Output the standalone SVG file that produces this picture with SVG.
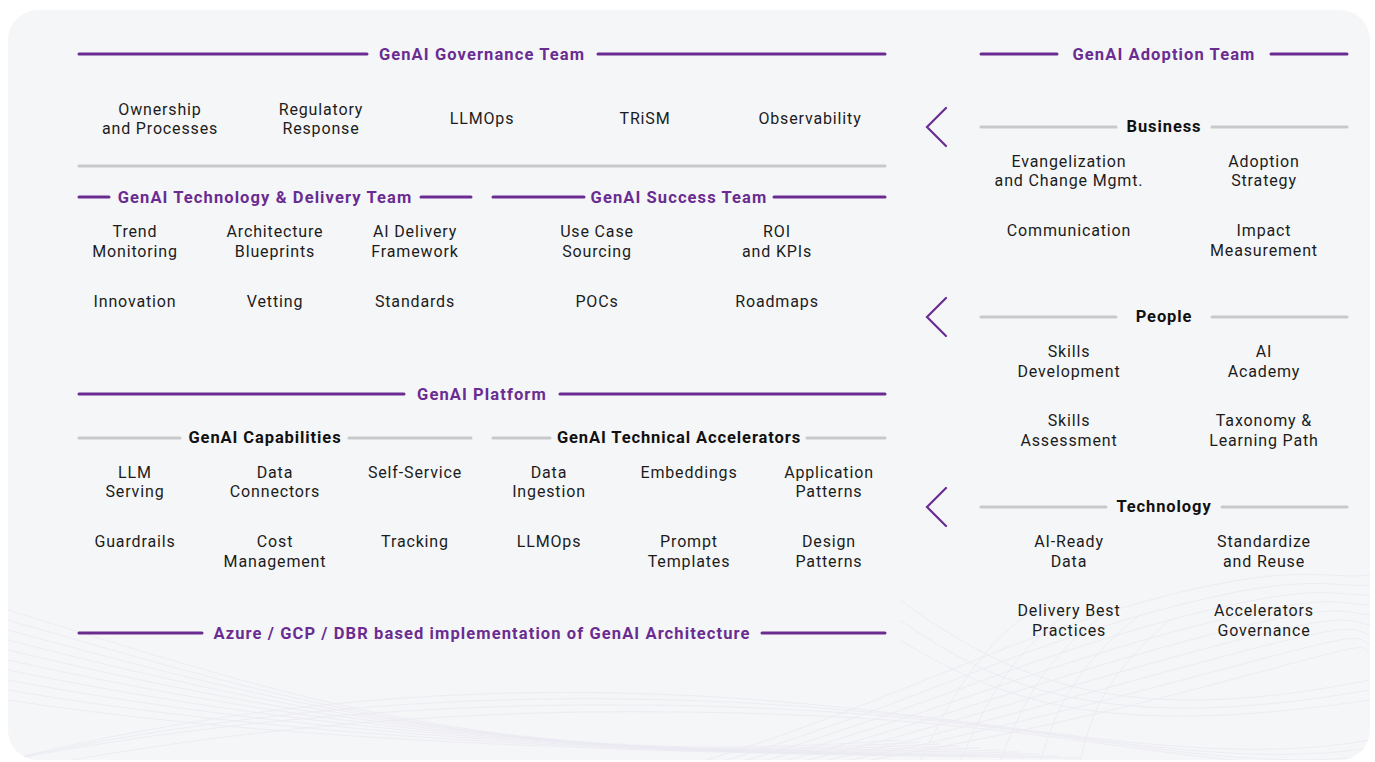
<svg xmlns="http://www.w3.org/2000/svg" width="1375" height="762" viewBox="0 0 1375 762">
  <defs>
    <style>
      .hdr { font-family: Roboto, "Liberation Sans", sans-serif; font-size: 16.5px; font-weight: 700; fill: #6a2c91; text-anchor: middle; letter-spacing: 1.1px; }
      .sub { font-family: Roboto, "Liberation Sans", sans-serif; font-size: 16.5px; font-weight: 700; fill: #111111; text-anchor: middle; letter-spacing: 0.9px; }
      .item { font-family: Roboto, "Liberation Sans", sans-serif; font-size: 16px; fill: #1c1c1c; text-anchor: middle; letter-spacing: 0.85px; }
      .pline { stroke: #6a2c91; stroke-width: 3; stroke-linecap: round; fill: none; }
      .gline { stroke: #c9c9cc; stroke-width: 3; stroke-linecap: round; fill: none; }
      .chev { stroke: #6a2c91; stroke-width: 2.2; fill: none; stroke-linecap: round; stroke-linejoin: miter; }
      .wave { stroke: #dedbeb; stroke-width: 0.8; fill: none; opacity: 0.45; }
    </style>
    <clipPath id="cardClip">
      <rect x="8" y="10" width="1362" height="750" rx="30"/>
    </clipPath>
  </defs>

  <!-- page and card -->
  <rect x="0" y="0" width="1375" height="762" fill="#ffffff"/>
  <rect x="8" y="10" width="1362" height="750" rx="30" fill="#f5f6f8"/>

  <!-- faint wave mesh in the lower part of the card -->
  <g clip-path="url(#cardClip)">
    <g class="wave">
      <path d="M8 610 C 300 700, 500 770, 900 740"/>
      <path d="M8 620 C 300 705, 520 770, 920 742"/>
      <path d="M8 630 C 300 710, 540 768, 940 744"/>
      <path d="M8 640 C 300 715, 560 766, 960 746"/>
      <path d="M8 650 C 300 720, 580 764, 980 748"/>
      <path d="M8 660 C 300 725, 600 762, 1000 750"/>
      <path d="M8 670 C 300 730, 620 760, 1020 752"/>
      <path d="M8 680 C 300 735, 640 758, 1040 754"/>
      <path d="M8 690 C 300 740, 660 756, 1060 756"/>
      <path d="M8 700 C 300 745, 680 754, 1080 758"/>
      <path d="M8 760 C 250 700, 500 680, 760 700 S 1200 770, 1370 740"/>
      <path d="M8 760 C 260 705, 520 688, 780 705 S 1210 772, 1370 748"/>
      <path d="M8 760 C 270 710, 540 696, 800 710 S 1220 774, 1370 756"/>
      <path d="M60 762 C 320 716, 560 704, 820 716 S 1230 776, 1370 762"/>
      <path d="M700 762 C 900 700, 1000 640, 1150 600 S 1320 580, 1370 575"/>
      <path d="M720 762 C 910 705, 1010 650, 1160 610 S 1325 588, 1370 585"/>
      <path d="M740 762 C 920 710, 1020 660, 1170 620 S 1330 596, 1370 595"/>
      <path d="M760 762 C 930 715, 1030 670, 1180 630 S 1335 604, 1370 605"/>
      <path d="M780 762 C 940 720, 1040 680, 1190 640 S 1340 612, 1370 615"/>
      <path d="M800 762 C 950 725, 1050 690, 1200 650 S 1345 620, 1370 625"/>
      <path d="M820 762 C 960 730, 1060 700, 1210 660 S 1350 628, 1370 635"/>
      <path d="M840 762 C 970 735, 1070 710, 1220 670 S 1355 636, 1370 645"/>
      <path d="M860 762 C 980 740, 1080 720, 1230 680 S 1360 644, 1370 655"/>
      <path d="M900 640 C 1000 700, 1100 740, 1370 700"/>
      <path d="M900 620 C 1000 690, 1110 735, 1370 690"/>
      <path d="M900 600 C 1010 680, 1120 730, 1370 680"/>
      <path d="M920 762 C 950 700, 980 640, 1050 600"/>
      <path d="M960 762 C 985 705, 1010 650, 1080 605"/>
      <path d="M1000 762 C 1020 710, 1040 660, 1110 610"/>
      <path d="M1040 762 C 1055 715, 1070 670, 1140 615"/>
      <path d="M1080 762 C 1090 720, 1100 680, 1170 620"/>
    </g>
  </g>

  <!-- connectors: section rules and chevrons -->
  <g id="connectors">
    <line class="pline" x1="79" y1="54" x2="367" y2="54"/>
    <line class="pline" x1="598" y1="54" x2="885" y2="54"/>
    <line class="pline" x1="981" y1="54" x2="1057" y2="54"/>
    <line class="pline" x1="1271" y1="54" x2="1347" y2="54"/>
    <line class="gline" x1="79" y1="166" x2="885" y2="166"/>
    <line class="pline" x1="79" y1="197" x2="109" y2="197"/>
    <line class="pline" x1="421" y1="197" x2="471" y2="197"/>
    <line class="pline" x1="493" y1="197" x2="584" y2="197"/>
    <line class="pline" x1="774" y1="197" x2="885" y2="197"/>
    <line class="pline" x1="79" y1="394" x2="404" y2="394"/>
    <line class="pline" x1="560" y1="394" x2="885" y2="394"/>
    <line class="gline" x1="79" y1="438" x2="180" y2="438"/>
    <line class="gline" x1="349" y1="438" x2="471" y2="438"/>
    <line class="gline" x1="493" y1="438" x2="550" y2="438"/>
    <line class="gline" x1="807" y1="438" x2="885" y2="438"/>
    <line class="pline" x1="79" y1="633" x2="202" y2="633"/>
    <line class="pline" x1="762" y1="633" x2="885" y2="633"/>
    <line class="gline" x1="981" y1="127" x2="1116" y2="127"/>
    <line class="gline" x1="1212" y1="127" x2="1347" y2="127"/>
    <line class="gline" x1="981" y1="317" x2="1116" y2="317"/>
    <line class="gline" x1="1212" y1="317" x2="1347" y2="317"/>
    <line class="gline" x1="981" y1="507" x2="1106" y2="507"/>
    <line class="gline" x1="1222" y1="507" x2="1347" y2="507"/>
    <polyline class="chev" points="946,108 927,127 946,146"/>
    <polyline class="chev" points="946,298 927,317 946,336"/>
    <polyline class="chev" points="946,488 927,507 946,526"/>
  </g>

  <!-- headers -->
  <g id="hdr-governance"><text class="hdr" x="482" y="60">GenAI Governance Team</text></g>
  <g id="hdr-adoption"><text class="hdr" x="1164" y="60">GenAI Adoption Team</text></g>
  <g id="hdr-techdelivery"><text class="hdr" x="265" y="203">GenAI Technology &amp; Delivery Team</text></g>
  <g id="hdr-success"><text class="hdr" x="679" y="203">GenAI Success Team</text></g>
  <g id="hdr-platform"><text class="hdr" x="482" y="400">GenAI Platform</text></g>
  <g id="hdr-capabilities"><text class="sub" x="265" y="443">GenAI Capabilities</text></g>
  <g id="hdr-accelerators"><text class="sub" x="679" y="443">GenAI Technical Accelerators</text></g>
  <g id="hdr-azure"><text class="hdr" x="482" y="639">Azure / GCP / DBR based implementation of GenAI Architecture</text></g>
  <g id="hdr-business"><text class="sub" x="1164" y="132">Business</text></g>
  <g id="hdr-people"><text class="sub" x="1164" y="322">People</text></g>
  <g id="hdr-technology"><text class="sub" x="1164" y="512">Technology</text></g>

  <!-- governance items -->
  <g id="n-ownership"><text class="item" x="160" y="115">Ownership</text><text class="item" x="160" y="134">and Processes</text></g>
  <g id="n-regulatory"><text class="item" x="321" y="115">Regulatory</text><text class="item" x="321" y="134">Response</text></g>
  <g id="n-llmops-gov"><text class="item" x="482" y="124">LLMOps</text></g>
  <g id="n-trism"><text class="item" x="645" y="124">TRiSM</text></g>
  <g id="n-observability"><text class="item" x="810" y="124">Observability</text></g>

  <!-- technology & delivery items -->
  <g id="n-trend"><text class="item" x="135" y="237">Trend</text><text class="item" x="135" y="257">Monitoring</text></g>
  <g id="n-arch"><text class="item" x="275" y="237">Architecture</text><text class="item" x="275" y="257">Blueprints</text></g>
  <g id="n-delivery"><text class="item" x="415" y="237">AI Delivery</text><text class="item" x="415" y="257">Framework</text></g>
  <g id="n-innovation"><text class="item" x="135" y="307">Innovation</text></g>
  <g id="n-vetting"><text class="item" x="275" y="307">Vetting</text></g>
  <g id="n-standards"><text class="item" x="415" y="307">Standards</text></g>

  <!-- success items -->
  <g id="n-usecase"><text class="item" x="597" y="237">Use Case</text><text class="item" x="597" y="257">Sourcing</text></g>
  <g id="n-roi"><text class="item" x="777" y="237">ROI</text><text class="item" x="777" y="257">and KPIs</text></g>
  <g id="n-pocs"><text class="item" x="597" y="307">POCs</text></g>
  <g id="n-roadmaps"><text class="item" x="777" y="307">Roadmaps</text></g>

  <!-- capabilities items -->
  <g id="n-llmserving"><text class="item" x="135" y="478">LLM</text><text class="item" x="135" y="497">Serving</text></g>
  <g id="n-dataconn"><text class="item" x="275" y="478">Data</text><text class="item" x="275" y="497">Connectors</text></g>
  <g id="n-selfservice"><text class="item" x="415" y="478">Self-Service</text></g>
  <g id="n-guardrails"><text class="item" x="135" y="547">Guardrails</text></g>
  <g id="n-cost"><text class="item" x="275" y="547">Cost</text><text class="item" x="275" y="567">Management</text></g>
  <g id="n-tracking"><text class="item" x="415" y="547">Tracking</text></g>

  <!-- accelerator items -->
  <g id="n-ingestion"><text class="item" x="549" y="478">Data</text><text class="item" x="549" y="497">Ingestion</text></g>
  <g id="n-embeddings"><text class="item" x="689" y="478">Embeddings</text></g>
  <g id="n-apppatterns"><text class="item" x="829" y="478">Application</text><text class="item" x="829" y="497">Patterns</text></g>
  <g id="n-llmops-acc"><text class="item" x="549" y="547">LLMOps</text></g>
  <g id="n-prompt"><text class="item" x="689" y="547">Prompt</text><text class="item" x="689" y="567">Templates</text></g>
  <g id="n-design"><text class="item" x="829" y="547">Design</text><text class="item" x="829" y="567">Patterns</text></g>

  <!-- adoption: business -->
  <g id="n-evangel"><text class="item" x="1069" y="167">Evangelization</text><text class="item" x="1069" y="186">and Change Mgmt.</text></g>
  <g id="n-adoption"><text class="item" x="1264" y="167">Adoption</text><text class="item" x="1264" y="186">Strategy</text></g>
  <g id="n-comm"><text class="item" x="1069" y="236">Communication</text></g>
  <g id="n-impact"><text class="item" x="1264" y="236">Impact</text><text class="item" x="1264" y="256">Measurement</text></g>

  <!-- adoption: people -->
  <g id="n-skillsdev"><text class="item" x="1069" y="357">Skills</text><text class="item" x="1069" y="377">Development</text></g>
  <g id="n-academy"><text class="item" x="1264" y="357">AI</text><text class="item" x="1264" y="377">Academy</text></g>
  <g id="n-skillsassess"><text class="item" x="1069" y="426">Skills</text><text class="item" x="1069" y="446">Assessment</text></g>
  <g id="n-taxonomy"><text class="item" x="1264" y="426">Taxonomy &amp;</text><text class="item" x="1264" y="446">Learning Path</text></g>

  <!-- adoption: technology -->
  <g id="n-aiready"><text class="item" x="1069" y="547">AI-Ready</text><text class="item" x="1069" y="567">Data</text></g>
  <g id="n-standardize"><text class="item" x="1264" y="547">Standardize</text><text class="item" x="1264" y="567">and Reuse</text></g>
  <g id="n-bestpractices"><text class="item" x="1069" y="616">Delivery Best</text><text class="item" x="1069" y="636">Practices</text></g>
  <g id="n-accgov"><text class="item" x="1264" y="616">Accelerators</text><text class="item" x="1264" y="636">Governance</text></g>
</svg>
